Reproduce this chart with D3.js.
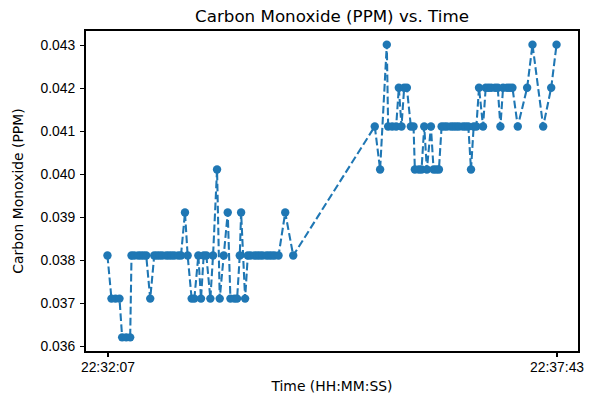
<!DOCTYPE html>
<html lang="en">
<head>
<meta charset="utf-8">
<title>Carbon Monoxide (PPM) vs. Time</title>
<script src="https://cdn.jsdelivr.net/npm/d3@7"></script>
<style>
	body { margin: 0; background: #fff; }
	svg { font-family: "DejaVu Sans", sans-serif; }
	.axis path, .axis line { stroke: #000; stroke-width: 1.1; shape-rendering: crispEdges; }
	.axis text { font-size: 13.9px; fill: #000; }
</style>
</head>
<body>
<svg id="chart" width="592" height="402"></svg>
<script>
	// sample times (HH:MM:SS) and CO readings in ppm
	var times = [
		"22:32:07","22:32:10","22:32:13","22:32:16","22:32:18","22:32:21","22:32:24","22:32:25",
		"22:32:27","22:32:30","22:32:32","22:32:34","22:32:36","22:32:39","22:32:42","22:32:44",
		"22:32:46","22:32:48","22:32:51","22:32:53","22:32:55","22:32:57","22:33:00","22:33:02",
		"22:33:05","22:33:07","22:33:10","22:33:12","22:33:15","22:33:17","22:33:19","22:33:21",
		"22:33:24","22:33:26","22:33:29","22:33:31","22:33:34","22:33:37","22:33:39","22:33:42",
		"22:33:44","22:33:46","22:33:47","22:33:50","22:33:52","22:33:54","22:33:57","22:33:59",
		"22:34:01","22:34:03","22:34:06","22:34:08","22:34:10","22:34:12","22:34:15","22:34:20",
		"22:34:26","22:35:27","22:35:31","22:35:36","22:35:37","22:35:40","22:35:43","22:35:45",
		"22:35:47","22:35:49","22:35:51","22:35:54","22:35:56","22:35:57","22:36:00","22:36:02",
		"22:36:04","22:36:06","22:36:09","22:36:11","22:36:13","22:36:15","22:36:17","22:36:19",
		"22:36:21","22:36:24","22:36:26","22:36:28","22:36:30","22:36:33","22:36:35","22:36:37",
		"22:36:39","22:36:41","22:36:43","22:36:45","22:36:48","22:36:50","22:36:52","22:36:54",
		"22:36:57","22:36:59","22:37:01","22:37:03","22:37:06","22:37:08","22:37:10","22:37:14",
		"22:37:21","22:37:25","22:37:33","22:37:39","22:37:43"
	];
	var ppm = [
		0.0381,0.0371,0.0371,0.0371,0.0362,0.0362,0.0362,0.0381,
		0.0381,0.0381,0.0381,0.0381,0.0381,0.0371,0.0381,0.0381,
		0.0381,0.0381,0.0381,0.0381,0.0381,0.0381,0.0381,0.0381,
		0.0391,0.0381,0.0371,0.0371,0.0381,0.0371,0.0381,0.0381,
		0.0371,0.0381,0.0401,0.0371,0.0381,0.0391,0.0371,0.0371,
		0.0371,0.0381,0.0391,0.0371,0.0381,0.0381,0.0381,0.0381,
		0.0381,0.0381,0.0381,0.0381,0.0381,0.0381,0.0381,0.0391,
		0.0381,0.0411,0.0401,0.0430,0.0411,0.0411,0.0411,0.0420,
		0.0411,0.0420,0.0420,0.0411,0.0411,0.0401,0.0401,0.0401,
		0.0411,0.0401,0.0411,0.0401,0.0401,0.0401,0.0411,0.0411,
		0.0411,0.0411,0.0411,0.0411,0.0411,0.0411,0.0411,0.0411,
		0.0401,0.0411,0.0411,0.0420,0.0411,0.0420,0.0420,0.0420,
		0.0420,0.0420,0.0411,0.0420,0.0420,0.0420,0.0420,0.0411,
		0.0420,0.0430,0.0411,0.0420,0.0430
	];
	var yTicks = [0.036, 0.037, 0.038, 0.039, 0.040, 0.041, 0.042, 0.043];
	var xTickLabels = ["22:32:07", "22:37:43"];

	var parseTime = d3.timeParse("%H:%M:%S");
	var fmtTime = d3.timeFormat("%H:%M:%S");
	var data = times.map(function(t, i) { return { t: parseTime(t), v: ppm[i] }; });

	var svg = d3.select("#chart");
	var margin = {top: 30, right: 13, bottom: 50, left: 85};
	var width = +svg.attr("width") - margin.left - margin.right;
	var height = +svg.attr("height") - margin.top - margin.bottom;

	var g = svg.append("g")
		.attr("transform", "translate(" + margin.left + "," + margin.top + ")");

	// matplotlib-style 5% padding
	var tExt = d3.extent(data, function(d) { return +d.t; });
	var tPad = (tExt[1] - tExt[0]) * 0.05;
	var vExt = d3.extent(data, function(d) { return d.v; });
	var vPad = (vExt[1] - vExt[0]) * 0.05;

	var x = d3.scaleTime()
		.domain([new Date(tExt[0] - tPad), new Date(tExt[1] + tPad)])
		.range([0, width]);
	var y = d3.scaleLinear()
		.domain([vExt[0] - vPad, vExt[1] + vPad])
		.range([height, 0]);

	var line = d3.line()
		.x(function(d) { return x(d.t); })
		.y(function(d) { return y(d.v); });

	g.append("path")
		.datum(data)
		.attr("d", line)
		.attr("fill", "none")
		.attr("stroke", "#1f77b4")
		.attr("stroke-width", 2.08)
		.attr("stroke-dasharray", "7.7,3.3");

	g.append("g").selectAll("circle")
		.data(data)
		.enter().append("circle")
		.attr("cx", function(d) { return x(d.t); })
		.attr("cy", function(d) { return y(d.v); })
		.attr("r", 4.2)
		.attr("fill", "#1f77b4");

	// x-axis
	g.append("g")
		.attr("class", "axis axis--x")
		.attr("transform", "translate(0," + height + ")")
		.call(d3.axisBottom(x)
			.tickValues(xTickLabels.map(parseTime))
			.tickFormat(fmtTime)
			.tickSize(4.9).tickPadding(4.9).tickSizeOuter(0));

	// y-axis
	g.append("g")
		.attr("class", "axis axis--y")
		.call(d3.axisLeft(y)
			.tickValues(yTicks)
			.tickFormat(d3.format(".3f"))
			.tickSize(4.9).tickPadding(4.9).tickSizeOuter(0));

	// frame
	g.append("rect")
		.attr("width", width).attr("height", height)
		.attr("fill", "none").attr("stroke", "#000").attr("stroke-width", 1.1)
		.attr("shape-rendering", "crispEdges");

	svg.append("text")
		.attr("x", margin.left + width / 2).attr("y", margin.top - 8)
		.attr("text-anchor", "middle")
		.style("font-size", "16.7px")
		.text("Carbon Monoxide (PPM) vs. Time");

	svg.append("text")
		.attr("x", margin.left + width / 2).attr("y", 391)
		.attr("text-anchor", "middle")
		.style("font-size", "13.9px")
		.text("Time (HH:MM:SS)");

	svg.append("text")
		.attr("transform", "translate(23," + (margin.top + height / 2) + ") rotate(-90)")
		.attr("text-anchor", "middle")
		.style("font-size", "13.9px")
		.text("Carbon Monoxide (PPM)");
</script>
</body>
</html>
